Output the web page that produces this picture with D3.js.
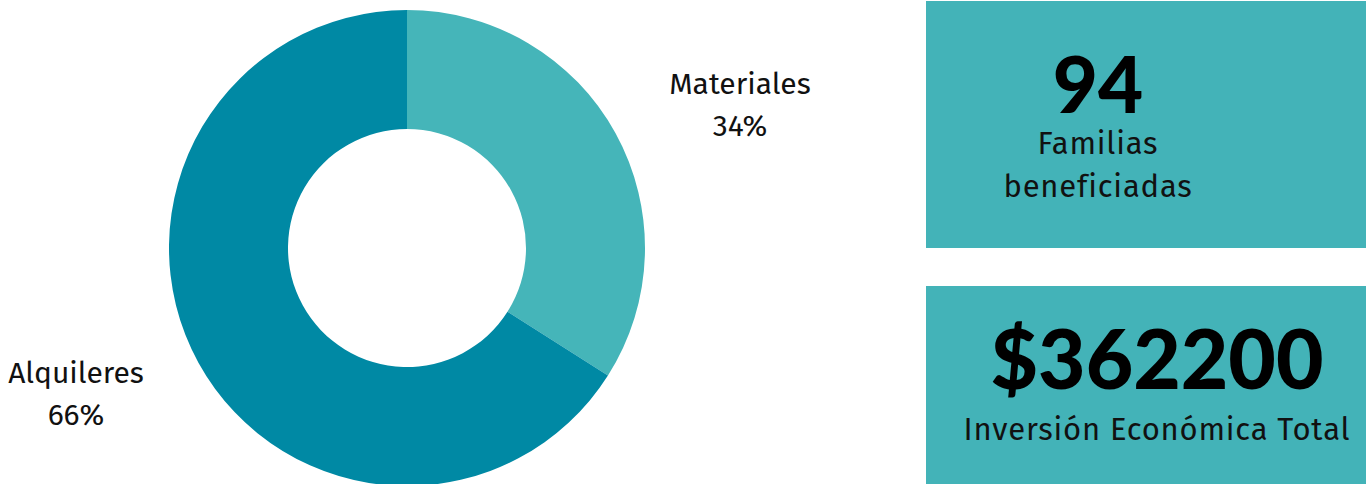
<!DOCTYPE html>
<html><head><meta charset="utf-8">
<script src="https://cdn.jsdelivr.net/npm/d3@7"></script>
<style>
html,body{margin:0;padding:0;background:#fff;overflow:hidden;}
svg{display:block;}
</style></head>
<body>
<svg id="c" width="1366" height="484"></svg>
<script>
const categories = ["Materiales", "Alquileres"];
const values = [34, 66];
const colors = ["#45B5B9", "#0089A4"];
const statValues = ["94", "$362200"];
const statLabels = [["Familias", "beneficiadas"], ["Inversión Económica Total"]];

const svg = d3.select("#c");
const cx = 407, cy = 248, rOut = 238, rIn = 119;
const labelFont = "'Fira Sans','Noto Sans','Open Sans',sans-serif";

const pie = d3.pie().sort(null).value(d => d)(values);
const arc = d3.arc().innerRadius(rIn).outerRadius(rOut);
const g = svg.append("g").attr("transform", `translate(${cx},${cy})`);
g.selectAll("path").data(pie).join("path")
  .attr("d", arc).attr("fill", (d, i) => colors[i]);

// label anchors (layout)
const labelPos = [[333, -154], [-331, 135]];
pie.forEach((d, i) => {
  const t = g.append("text")
    .attr("transform", `translate(${labelPos[i][0]},${labelPos[i][1]})`)
    .attr("text-anchor", "middle")
    .style("font-family", labelFont).style("font-size", "30px").attr("fill", "#111");
  t.append("tspan").attr("x", 0).attr("dy", 0).text(categories[i]);
  t.append("tspan").attr("x", 0).attr("dy", 42).text(Math.round(d.value) + "%");
});

// stat boxes
const boxes = [
  {x: 926, y: 1, w: 440, h: 247, cxT: 1098, numY: 113, numSize: 78, labY: 154},
  {x: 926, y: 286, w: 440, h: 198, cxT: 1157, numY: 389, numSize: 82, labY: 440}
];
boxes.forEach((b, i) => {
  svg.append("rect").attr("x", b.x).attr("y", b.y).attr("width", b.w).attr("height", b.h).attr("fill", "#43B3B8");
  svg.append("text").attr("x", b.cxT).attr("y", b.numY).attr("text-anchor", "middle")
    .style("font-family", "'Lato','Montserrat','Noto Sans',sans-serif").style("font-weight", 900)
    .style("font-size", b.numSize + "px").attr("fill", "#000").text(statValues[i]);
  const t = svg.append("text").attr("x", b.cxT).attr("y", b.labY).attr("text-anchor", "middle")
    .style("font-family", labelFont).style("font-size", "31px")
    .style("letter-spacing", "0.8px").attr("fill", "#111");
  statLabels[i].forEach((s, j) => t.append("tspan").attr("x", b.cxT).attr("dy", j ? 43 : 0).text(s));
});
</script>
</body></html>
